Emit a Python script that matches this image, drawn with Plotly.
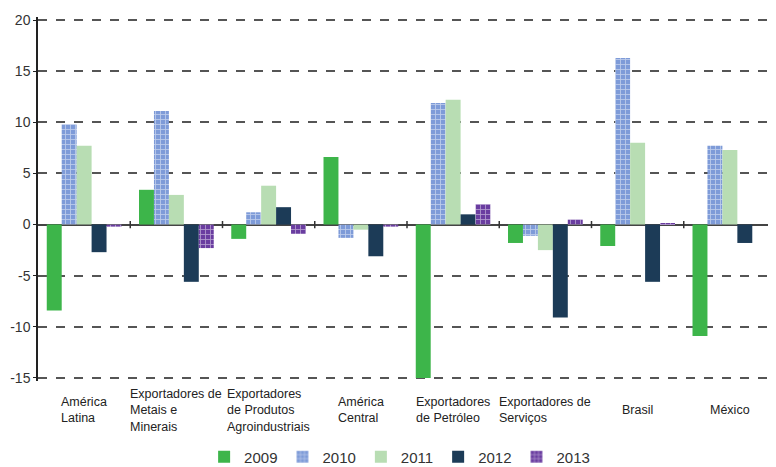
import plotly.graph_objects as go

# categorias (regiões) e variação por ano
categorias = [
    "América<br>Latina",
    "Exportadores de<br>Metais e<br>Minerais",
    "Exportadores<br>de Produtos<br>Agroindustriais",
    "América<br>Central",
    "Exportadores<br>de Petróleo",
    "Exportadores de<br>Serviços",
    "Brasil",
    "México",
]
anos = ["2009", "2010", "2011", "2012", "2013"]

v2009 = [-8.4, 3.4, -1.4, 6.6, -15.0, -1.8, -2.1, -10.9]
v2010 = [9.8, 11.1, 1.2, -1.3, 11.9, -1.1, 16.3, 7.7]
v2011 = [7.7, 2.9, 3.8, -0.5, 12.2, -2.5, 8.0, 7.3]
v2012 = [-2.7, -5.6, 1.7, -3.1, 1.0, -9.1, -5.6, -1.8]
v2013 = [-0.2, -2.3, -0.9, -0.2, 2.0, 0.5, 0.1, 0.0]

y_ticks = [20, 15, 10, 5, 0, -5, -10, -15]

FONTE = "Liberation Sans Narrow, Arial Narrow, Arial, sans-serif"

series = [v2009, v2010, v2011, v2012, v2013]
estilos = [
    dict(color="#3DB54A"),
    dict(color="#7E9BD8", pattern=dict(shape="+", fgcolor="white", bgcolor="#7E9BD8", size=5, solidity=0.3)),
    dict(color="#B8DDB3"),
    dict(color="#1C3B57"),
    dict(color="#6A3DA0", pattern=dict(shape="+", fgcolor="white", bgcolor="#6A3DA0", size=5, solidity=0.3)),
]

x = list(range(len(categorias)))

fig = go.Figure()
for ano, vals, est in zip(anos, series, estilos):
    fig.add_trace(go.Bar(
        x=x, y=vals, name=ano,
        marker=dict(line=dict(width=0), **est),
    ))

# rótulos das categorias por baixo do gráfico
for i, cat in enumerate(categorias):
    fig.add_annotation(
        x=i, y=-0.08, xref="x", yref="paper",
        text=cat, showarrow=False, xanchor="center", yanchor="middle",
        align="left", font=dict(family=FONTE, size=12.5, color="#222"),
    )

# marcas de separação sobre a linha do zero
for i in range(1, len(categorias)):
    fig.add_shape(type="line", x0=i - 0.5, x1=i - 0.5, y0=-0.35, y1=0.35,
                  xref="x", yref="y", line=dict(color="#333", width=1.5))

# a página tem 8px de margem no body: figura um pouco menor
fig.update_layout(
    width=768, height=459,
    margin=dict(l=30, r=0, t=9, b=86),
    plot_bgcolor="white", paper_bgcolor="white",
    barmode="group", bargap=0.19, bargroupgap=0,
    font=dict(family=FONTE, color="#333"),
    showlegend=True,
    legend=dict(orientation="h", x=0.49, xanchor="center",
                yref="container", y=0.022, yanchor="middle",
                font=dict(family=FONTE, size=15, color="#333"), itemwidth=30),
)
fig.update_xaxes(range=[-0.5, len(categorias) - 0.5], showticklabels=False,
                 showgrid=False, zeroline=False, showline=False, ticks="",
                 automargin=False)
fig.update_yaxes(range=[-15.3, 20.3], tickvals=y_ticks, ticktext=[str(t) for t in y_ticks],
                 showgrid=True, gridcolor="#555", griddash="dash", gridwidth=1.5,
                 zeroline=True, zerolinecolor="#444", zerolinewidth=1.5,
                 showline=True, linecolor="#222", linewidth=1.5,
                 ticks="outside", ticklen=3, tickcolor="#222", automargin=False,
                 tickfont=dict(family=FONTE, size=14, color="#333"))

fig.write_html("out.html")
